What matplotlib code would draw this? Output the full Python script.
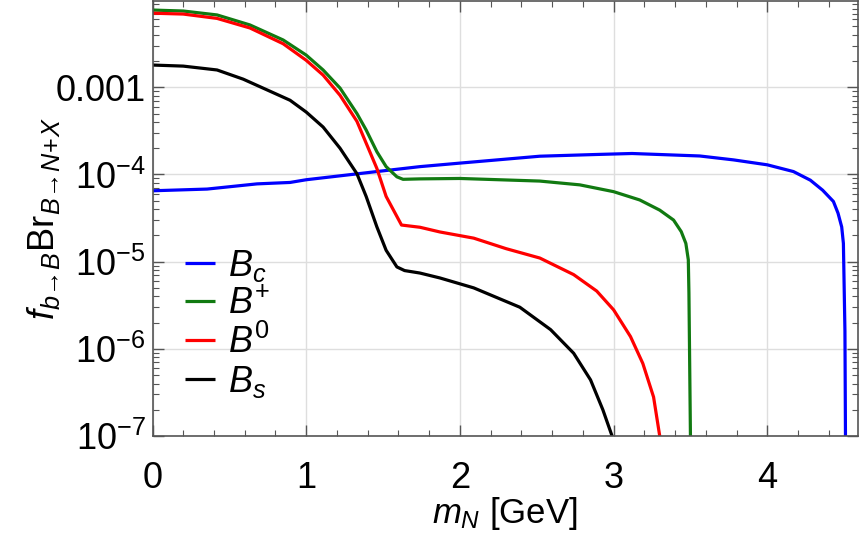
import numpy as np
import matplotlib
matplotlib.use("Agg")
import matplotlib.pyplot as plt
from matplotlib.ticker import FixedLocator, MultipleLocator, LogLocator, NullFormatter

plt.rcParams['font.family'] = ['Liberation Sans', 'DejaVu Sans']
plt.rcParams['mathtext.fontset'] = 'custom'
plt.rcParams['mathtext.rm'] = 'Liberation Sans'
plt.rcParams['mathtext.it'] = 'Liberation Sans:italic'
plt.rcParams['mathtext.bf'] = 'Liberation Sans:bold'

# --- data ---
mBc = [0, 0.355, 0.68, 0.895, 1.0, 1.44, 1.74, 2.0, 2.52, 2.91, 3.12, 3.56, 3.78, 4.0, 4.17, 4.28, 4.36,
       4.43, 4.46, 4.484, 4.495, 4.505, 4.51]
yBc = [6.5e-5, 6.8e-5, 7.8e-5, 8.1e-5, 8.7e-5, 1.07e-4, 1.23e-4, 1.35e-4, 1.62e-4, 1.70e-4, 1.74e-4,
       1.63e-4, 1.47e-4, 1.29e-4, 1.08e-4, 8.6e-5, 6.6e-5, 4.9e-5, 3.6e-5, 2.5e-5, 1.62e-5, 1.6e-6, 3e-8]

mBp = [0, 0.2, 0.42, 0.634, 0.85, 1.0, 1.11, 1.22, 1.33, 1.39, 1.46, 1.52, 1.59, 1.63, 1.74, 2.0, 2.52,
       2.78, 3.0, 3.17, 3.30, 3.39, 3.44, 3.47, 3.486, 3.49, 3.503]
yBp = [7.69e-3, 7.5e-3, 6.76e-3, 5.19e-3, 3.49e-3, 2.34e-3, 1.58e-3, 9.8e-4, 5.0e-4, 3.24e-4, 1.82e-4,
       1.23e-4, 9.4e-5, 8.8e-5, 8.9e-5, 9.0e-5, 8.4e-5, 7.6e-5, 6.35e-5, 5.1e-5, 3.9e-5, 3.0e-5, 2.21e-5,
       1.62e-5, 1.05e-5, 4.4e-6, 3e-8]

mB0 = [0, 0.2, 0.42, 0.634, 0.85, 1.0, 1.11, 1.22, 1.33, 1.39, 1.46, 1.52, 1.59, 1.62, 1.74, 1.87, 2.09,
       2.30, 2.52, 2.74, 2.89, 3.00, 3.11, 3.19, 3.26, 3.30, 3.31]
yB0 = [7.08e-3, 6.92e-3, 6.17e-3, 4.79e-3, 3.16e-3, 2.04e-3, 1.38e-3, 8.1e-4, 4.07e-4, 2.29e-4, 1.17e-4,
       5.6e-5, 3.3e-5, 2.63e-5, 2.48e-5, 2.19e-5, 1.86e-5, 1.41e-5, 1.10e-5, 7.1e-6, 4.6e-6, 2.8e-6,
       1.38e-6, 6.8e-7, 2.8e-7, 1.0e-7, 5e-8]

mBs = [0, 0.2, 0.42, 0.59, 0.895, 1.0, 1.11, 1.22, 1.33, 1.39, 1.46, 1.52, 1.59, 1.64, 1.74, 1.87, 2.09,
       2.39, 2.59, 2.74, 2.85, 2.93, 2.99, 3.0]
yBs = [1.80e-3, 1.75e-3, 1.58e-3, 1.24e-3, 7.1e-4, 5.2e-4, 3.5e-4, 2.0e-4, 1.02e-4, 5.6e-5, 2.5e-5,
       1.35e-5, 8.7e-6, 7.9e-6, 7.4e-6, 6.5e-6, 5.0e-6, 3.0e-6, 1.66e-6, 8.9e-7, 4.4e-7, 2.0e-7, 1.0e-7, 5e-8]

labels = [r'$B_c$', r'$B^{+}$', r'$B^{0}$', r'$B_s$']
colors = ['#0000ff', '#117a11', '#ff0000', '#000000']

ytick_vals = [1e-7, 1e-6, 1e-5, 1e-4, 1e-3]
ytick_labels = [r'$\mathregular{10^{-7}}$', r'$\mathregular{10^{-6}}$', r'$\mathregular{10^{-5}}$',
                r'$\mathregular{10^{-4}}$', '0.001']
xtick_vals = [0, 1, 2, 3, 4]

fig = plt.figure(figsize=(8.65, 5.42), dpi=100)
ax = fig.add_axes([152.5 / 865, 1 - 436 / 542, (858 - 152.5) / 865, (436 - 0.5) / 542])

for m, y, lab, c in zip([mBc, mBp, mB0, mBs], [yBc, yBp, yB0, yBs], labels, colors):
    ax.plot(m, y, color=c, lw=2.3, label=lab, solid_joinstyle='round', solid_capstyle='butt')

ax.set_yscale('log')
ax.set_xlim(0, 4.59)
ax.set_ylim(1e-7, 0.0099)

ax.yaxis.set_major_locator(FixedLocator(ytick_vals))
ax.set_yticklabels(ytick_labels)
ax.yaxis.set_minor_locator(LogLocator(base=10, subs=np.arange(2, 10), numticks=20))
ax.yaxis.set_minor_formatter(NullFormatter())
ax.set_xticks(xtick_vals)
ax.set_xticklabels([str(v) for v in xtick_vals])
ax.xaxis.set_minor_locator(MultipleLocator(0.2))

ax.tick_params(which='both', direction='in', top=True, right=True, colors='#555555',
               labelcolor='black', labelsize=26)
ax.tick_params(which='major', length=8, width=1)
ax.tick_params(which='minor', length=4, width=0.8)
ax.tick_params(axis='x', pad=18)
ax.tick_params(axis='y', pad=5)

ax.grid(True, which='major', color='#dedede', lw=1)
for s in ax.spines.values():
    s.set_color('#555555')
    s.set_linewidth(1.2)

ax.set_xlabel(r'$m_N$ [GeV]', fontsize=25)
ax.xaxis.set_label_coords(0.5, -0.178)
ax.xaxis.label.set_va('center')
ax.set_ylabel(r'$f_{b\!\rightarrow\! B}\mathregular{Br}_{B\!\rightarrow\! N\!+\!X}$', fontsize=26)
ax.yaxis.set_label_coords(-0.155, 0.5)
ax.yaxis.label.set_va('center')

leg = ax.legend(loc='lower left', bbox_to_anchor=(0.025, 0.05), frameon=False, fontsize=26,
                handlelength=0.85, handletextpad=0.35, labelspacing=0.08, borderaxespad=0)

fig.savefig('out.png', dpi=100)
